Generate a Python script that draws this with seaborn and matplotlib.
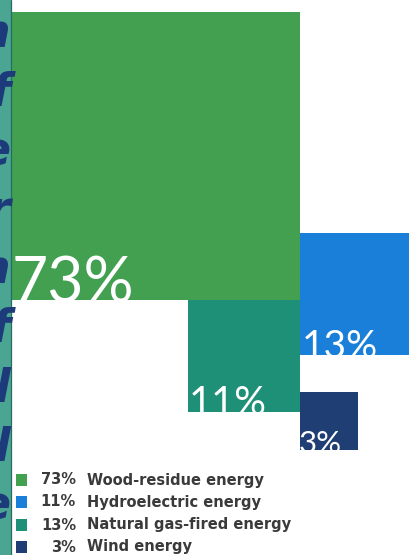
import matplotlib
matplotlib.use("Agg")
import matplotlib.pyplot as plt
import numpy as np
import pandas as pd
import seaborn as sns

# ---------------- data ----------------
square_names = ["Wood-residue", "Hydroelectric", "Natural gas-fired", "Wind"]
square_values = [73, 13, 11, 3]                 # percentages printed on the squares
square_labels = ["73%", "13%", "11%", "3%"]
square_colors = ["#43a050", "#1a7fd9", "#1f9078", "#1f3e74"]

legend_pcts = ["73%", "11%", "13%", "3%"]
legend_labels = ["Wood-residue energy", "Hydroelectric energy",
                 "Natural gas-fired energy", "Wind energy"]
legend_colors = ["#43a050", "#1a7fd9", "#1f9078", "#1f3e74"]

side_letters = ["n", "f", "e", "r", "n", "f", "l", "l", "e"]

# ---------------- figure ----------------
sns.set_theme(style="white")
W, H = 409, 555
fig = plt.figure(figsize=(W / 100, H / 100), dpi=100)
ax = fig.add_axes([0, 0, 1, 1])
ax.set_xlim(0, W)
ax.set_ylim(H, 0)
ax.axis("off")

K = 33.7  # pixels per sqrt(percent): square area proportional to value
sides = [K * np.sqrt(v) for v in square_values]
s_g, s_b, s_t, s_n = sides
x0, y0 = 12, 12
xs = [x0, x0 + s_g, x0 + s_g - s_t, x0 + s_g]
ys = [y0, 233, y0 + s_g, 392]

df = pd.DataFrame({"name": square_names, "value": square_values,
                   "x": xs, "y": ys, "side": sides})

bars = ax.bar(df["x"], df["side"], width=df["side"], bottom=df["y"],
              align="edge", color=square_colors, linewidth=0, zorder=2)

# labels inside squares (clipped at the square bottom)
lab_size = [45, 28, 28.5, 22.5]
lab_dx = [0, 2, 1, -1]
for bar, lab, fs, dx, x, y, s in zip(bars, square_labels, lab_size, lab_dx,
                                       df["x"], df["y"], df["side"]):
    t = ax.text(x + dx, y + s + 3, lab, color="white", fontsize=fs,
                family=["Lato", "DejaVu Sans"], fontweight="normal",
                ha="left", va="baseline", zorder=3)
    t.set_clip_path(bar)

# left teal strip with cut letters
strip = ax.bar([0], [H], width=11, bottom=[0], align="edge",
               color="#4aa592", linewidth=0, zorder=1)
ax.plot([11, 11], [0, H], color="#2b6c60", lw=0.9, zorder=2)
for i, ch in enumerate(side_letters):
    t = ax.text(10.5, 47 + 59.1 * i, ch, color="#1d3b7a", fontsize=33,
                fontweight="bold", style="italic", family="DejaVu Sans",
                ha="right", va="baseline", zorder=2)
    t.set_clip_path(strip[0])

# legend
ly = [480, 502, 525, 547]
sns.scatterplot(x=[21.5] * 4, y=ly, hue=legend_labels, palette=legend_colors,
                marker="s", s=68, linewidth=0, legend=False, ax=ax, zorder=3)
for y, p, lab in zip(ly, legend_pcts, legend_labels):
    ax.text(76, y, p, ha="right", va="center", fontsize=10.5,
            fontweight="bold", color="#3a3a3a", family="DejaVu Sans")
    ax.text(87, y, lab, ha="left", va="center", fontsize=10.5,
            fontweight="bold", color="#3a3a3a", family="DejaVu Sans")

fig.savefig("out.png", dpi=100)
